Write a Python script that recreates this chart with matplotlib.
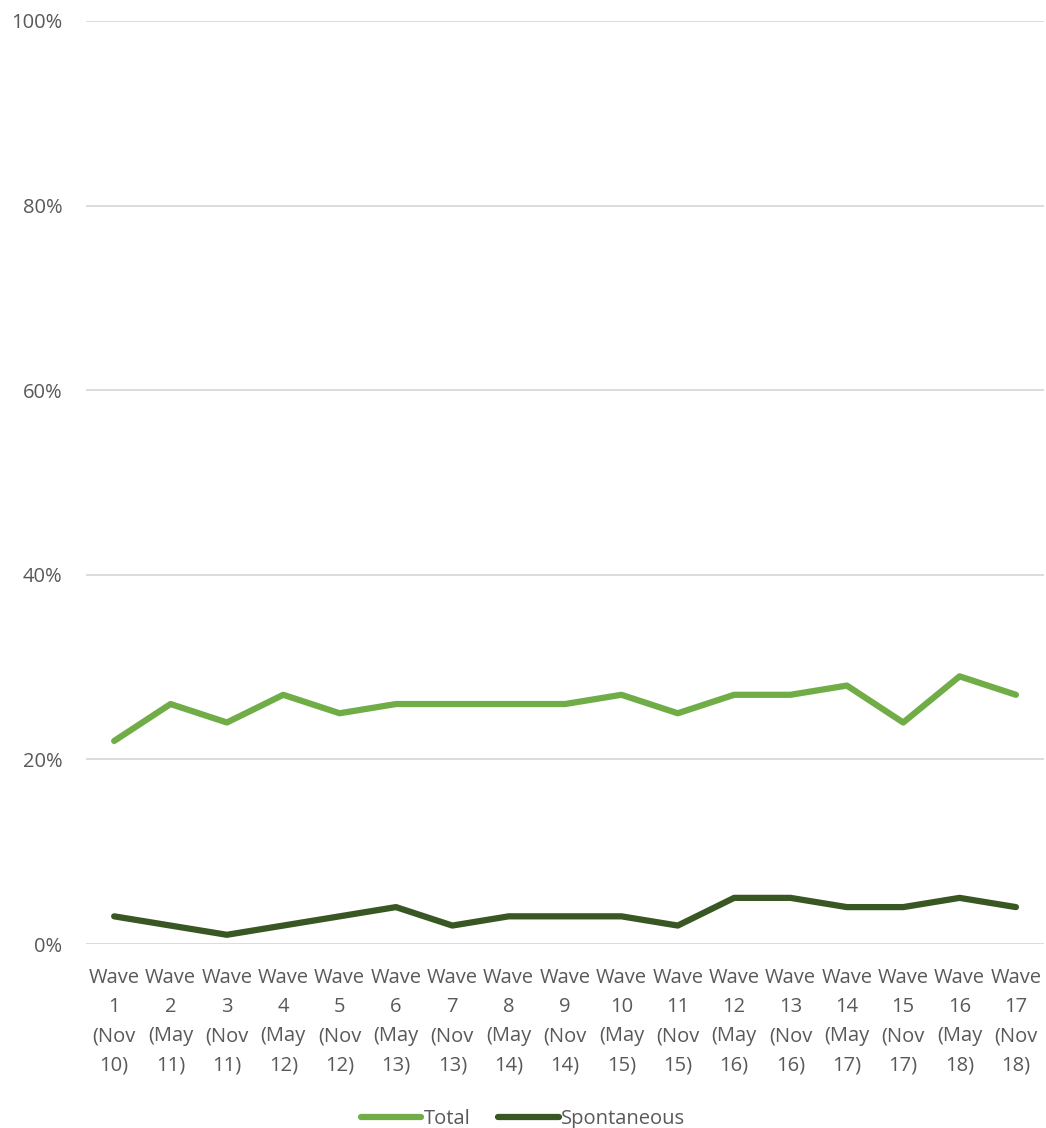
import matplotlib
matplotlib.use("Agg")
import matplotlib.pyplot as plt
from matplotlib.ticker import FuncFormatter

waves = ["Wave\n1\n(Nov\n10)", "Wave\n2\n(May\n11)", "Wave\n3\n(Nov\n11)", "Wave\n4\n(May\n12)",
         "Wave\n5\n(Nov\n12)", "Wave\n6\n(May\n13)", "Wave\n7\n(Nov\n13)", "Wave\n8\n(May\n14)",
         "Wave\n9\n(Nov\n14)", "Wave\n10\n(May\n15)", "Wave\n11\n(Nov\n15)", "Wave\n12\n(May\n16)",
         "Wave\n13\n(Nov\n16)", "Wave\n14\n(May\n17)", "Wave\n15\n(Nov\n17)", "Wave\n16\n(May\n18)",
         "Wave\n17\n(Nov\n18)"]
total = [22, 26, 24, 27, 25, 26, 26, 26, 26, 27, 25, 27, 27, 28, 24, 29, 27]
spontaneous = [3, 2, 1, 2, 3, 4, 2, 3, 3, 3, 2, 5, 5, 4, 4, 5, 4]

plt.rcParams['font.family'] = ['Open Sans', 'DejaVu Sans']
text_col = '#595959'

fig = plt.figure(figsize=(10.46, 11.28), dpi=100)
ax = fig.add_axes([0.0822, 0.1631, 0.916, 0.8183])

x = list(range(len(waves)))
ax.plot(x, total, color='#70AD47', lw=4.5, solid_capstyle='round', label='Total')
ax.plot(x, spontaneous, color='#385723', lw=4.5, solid_capstyle='round', label='Spontaneous')

ax.set_ylim(0, 100)
ax.set_xlim(-0.5, len(waves) - 0.5)
ax.set_yticks([0, 20, 40, 60, 80, 100])
ax.yaxis.set_major_formatter(FuncFormatter(lambda v, p: f"{v:.0f}%"))
ax.set_xticks(x)
ax.set_xticklabels(waves, linespacing=1.62)
ax.tick_params(axis='both', length=0, colors=text_col, labelsize=14.5)
ax.tick_params(axis='x', pad=17)
ax.tick_params(axis='y', pad=17)
ax.grid(axis='y', color='#D9D9D9', lw=1.3)
ax.set_axisbelow(True)
for s in ax.spines.values():
    s.set_visible(False)

leg = fig.legend(loc='lower center', bbox_to_anchor=(0.5, -0.017), ncol=2, frameon=False,
                 fontsize=14.5, handlelength=3.0, handletextpad=0.1, columnspacing=1.4)
for t in leg.get_texts():
    t.set_color(text_col)

fig.savefig("out.png", dpi=100)
